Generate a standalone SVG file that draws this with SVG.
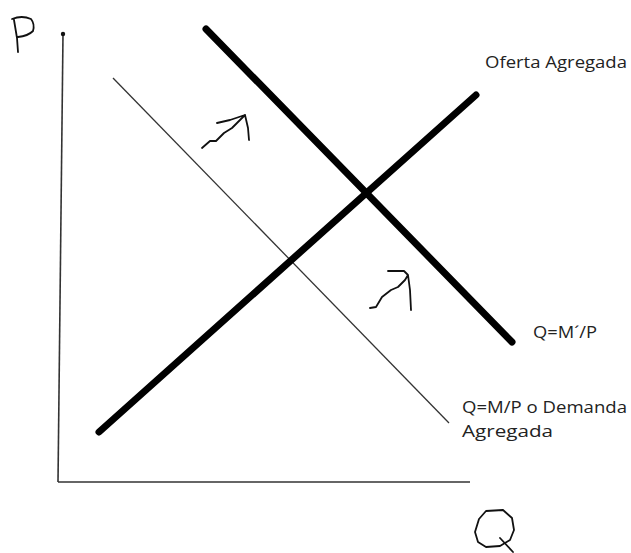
<svg xmlns="http://www.w3.org/2000/svg" width="631" height="553" viewBox="0 0 631 553">
<style>
.axis{stroke:#333;stroke-width:1.6;fill:none}
.thin{stroke:#333;stroke-width:1.3;fill:none}
.thick{stroke:#000;stroke-width:7;stroke-linecap:round;fill:none}
.hand{stroke:#111;stroke-width:1.8;fill:none;stroke-linejoin:round;stroke-linecap:round}
.lbl{font-family:"Open Sans","Liberation Sans",sans-serif;font-size:15.5px;fill:#222}
</style>
<rect width="631" height="553" fill="#fff"/>
<g id="axes">
<line class="axis" x1="63" y1="34" x2="58" y2="482"/>
<circle cx="63" cy="34" r="2.2" fill="#111"/>
<line class="axis" x1="58" y1="482" x2="470" y2="482"/>
<path id="P" class="hand" d="M18 52 L17 38 L14 20 M12 19 Q22 15 31 19 Q35 24 33 31 Q28 36 18 37"/>
<path id="Q" class="hand" d="M486 511 L503 510 L512 518 L514 530 L510 540 L500 546 L486 547 L478 542 L475 532 L479 519 Z M500 538 L513 552"/>
</g>
<g id="connectors">
<line id="demanda" class="thin" x1="113" y1="78" x2="449" y2="423"/>
<line id="demanda2" class="thick" x1="206" y1="29" x2="512" y2="342"/>
<line id="oferta" class="thick" x1="99" y1="432" x2="476" y2="95"/>
<path id="arrow1" class="hand" d="M202 148 L210 141 L216 141 L224 133 L232 128 L245 115 M217 123 L230 120 L245 115 M245 115 L248 128 L249 140"/>
<path id="arrow2" class="hand" d="M370 308 L376 307 L382 297 L391 290 L398 287 L405 280 L408 275 M388 271 L404 271 L408 275 M408 275 L410 290 L411 310"/>
</g>
<g id="labels">
<text class="lbl" x="485" y="68" textLength="142" lengthAdjust="spacingAndGlyphs">Oferta Agregada</text>
<text class="lbl" x="533" y="338" textLength="64" lengthAdjust="spacingAndGlyphs">Q=M´/P</text>
<text class="lbl" x="462" y="413" textLength="165" lengthAdjust="spacingAndGlyphs">Q=M/P o Demanda</text>
<text class="lbl" x="462" y="437" textLength="91" lengthAdjust="spacingAndGlyphs">Agregada</text>
</g>
</svg>
